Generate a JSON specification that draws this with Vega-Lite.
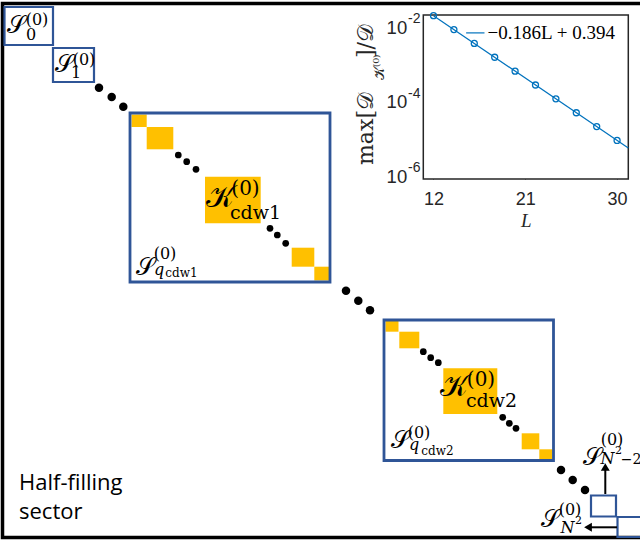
{
  "$schema": "https://vega.github.io/schema/vega-lite/v6.json",
  "width": 640,
  "height": 542,
  "autosize": {"type": "none"},
  "padding": 0,
  "background": "white",
  "config": {"view": {"stroke": null}},
  "datasets": {
    "frame": [{"x": 2.5, "x2": 720, "y": 3.5, "y2": 537.5}],
    "bigbox": [
      {"x": 130, "x2": 330, "y": 113, "y2": 282},
      {"x": 384, "x2": 553.5, "y": 320, "y2": 460.5}
    ],
    "smallbox": [
      {"x": 4.5, "x2": 53, "y": 7, "y2": 45},
      {"x": 53, "x2": 94, "y": 48, "y2": 82},
      {"x": 591, "x2": 616, "y": 495.5, "y2": 516.5},
      {"x": 617.5, "x2": 690, "y": 517, "y2": 537}
    ],
    "orange": [
      {"x": 131.5, "x2": 146.7, "y": 114.5, "y2": 127},
      {"x": 146.7, "x2": 173.3, "y": 127, "y2": 149.3},
      {"x": 205, "x2": 260.7, "y": 176.7, "y2": 223.3},
      {"x": 291.7, "x2": 314.3, "y": 247.7, "y2": 266.7},
      {"x": 314.3, "x2": 329, "y": 266.7, "y2": 280.5},
      {"x": 385.5, "x2": 398.5, "y": 321, "y2": 331.7},
      {"x": 399.3, "x2": 419.3, "y": 331.7, "y2": 348.3},
      {"x": 443.3, "x2": 497.3, "y": 368.3, "y2": 414},
      {"x": 521.7, "x2": 539.3, "y": 433.3, "y2": 449.3},
      {"x": 539.3, "x2": 552.3, "y": 449.3, "y2": 459.3}
    ],
    "bigdots": [
      {"x": 99, "y": 87.7}, {"x": 111.7, "y": 97}, {"x": 123.3, "y": 106.7},
      {"x": 346, "y": 290.7}, {"x": 358.3, "y": 300.7}, {"x": 370, "y": 310.3},
      {"x": 561, "y": 470}, {"x": 572.7, "y": 480}, {"x": 585, "y": 490}
    ],
    "smalldots": [
      {"x": 178.3, "y": 155}, {"x": 186.7, "y": 161.7}, {"x": 196, "y": 169.3},
      {"x": 270, "y": 228.3}, {"x": 277.3, "y": 235}, {"x": 285.7, "y": 243.3},
      {"x": 423.3, "y": 351.7}, {"x": 430.7, "y": 357.7}, {"x": 438.3, "y": 362.7},
      {"x": 502.7, "y": 417.3}, {"x": 509.3, "y": 423.3}, {"x": 516, "y": 428.3}
    ],
    "arrows": [
      {"x": 605.3, "x2": 605.3, "y": 494, "y2": 470},
      {"x": 617, "x2": 591, "y": 527.3, "y2": 527.3}
    ],
    "heads": [
      {"x": 605.3, "y": 467, "dir": "up"},
      {"x": 588, "y": 527.3, "dir": "left"}
    ],
    "lab": [
      {"x": 16.5, "y": 26, "t": "𝒮", "g": "S"},
      {"x": 64.5, "y": 65, "t": "𝒮", "g": "S"},
      {"x": 145.5, "y": 267.5, "t": "𝒮", "g": "S"},
      {"x": 400, "y": 440.5, "t": "𝒮", "g": "S"},
      {"x": 592.5, "y": 457.5, "t": "𝒮", "g": "S"},
      {"x": 550.5, "y": 519.5, "t": "𝒮", "g": "S"},
      {"x": 220, "y": 197.5, "t": "𝒦", "g": "K"},
      {"x": 454, "y": 386.5, "t": "𝒦", "g": "K"},
      {"x": 37, "y": 19.5, "t": "(0)", "g": "p"},
      {"x": 84, "y": 59.5, "t": "(0)", "g": "p"},
      {"x": 165, "y": 253.5, "t": "(0)", "g": "p"},
      {"x": 419, "y": 432.5, "t": "(0)", "g": "p"},
      {"x": 612, "y": 440, "t": "(0)", "g": "p"},
      {"x": 570, "y": 509.5, "t": "(0)", "g": "p"},
      {"x": 245.5, "y": 189, "t": "(0)", "g": "P"},
      {"x": 481, "y": 379.5, "t": "(0)", "g": "P"},
      {"x": 31, "y": 35, "t": "0", "g": "d"},
      {"x": 76, "y": 72.5, "t": "1", "g": "d"},
      {"x": 159, "y": 270, "t": "q", "g": "i"},
      {"x": 414, "y": 445, "t": "q", "g": "i"},
      {"x": 607.5, "y": 458.5, "t": "N", "g": "i"},
      {"x": 567.5, "y": 527.5, "t": "N", "g": "i"},
      {"x": 181.5, "y": 272.5, "t": "cdw1", "g": "c"},
      {"x": 437.5, "y": 450.5, "t": "cdw2", "g": "c"},
      {"x": 255.5, "y": 213, "t": "cdw1", "g": "C"},
      {"x": 491.5, "y": 401, "t": "cdw2", "g": "C"},
      {"x": 618.5, "y": 451, "t": "2", "g": "s"},
      {"x": 578.5, "y": 521, "t": "2", "g": "s"},
      {"x": 631, "y": 459.5, "t": "−2", "g": "m"}
    ],
    "ytitle": [
      {"x": 373, "y": 165, "t": "max[𝒟", "g": "big"},
      {"x": 384, "y": 80, "t": "𝒦⁽⁰⁾", "g": "sub"},
      {"x": 373, "y": 58, "t": "]/𝒟", "g": "big"}
    ],
    "sector": [
      {"x": 19, "y": 490, "t": "Half-filling"},
      {"x": 19, "y": 519, "t": "sector"}
    ],
    "ibox": [{"L": 11, "L2": 31.1, "v": 6.03e-7, "v2": 0.01514}],
    "fit": [{"L": 12, "v": 0.01452}, {"L": 31.1, "v": 4.07e-6}],
    "pts": [
      {"L": 12, "v": 0.01452}, {"L": 14, "v": 0.006166}, {"L": 16, "v": 0.002618},
      {"L": 18, "v": 0.001112}, {"L": 20, "v": 0.0004721}, {"L": 22, "v": 0.0002004},
      {"L": 24, "v": 0.00008511}, {"L": 26, "v": 0.00003614}, {"L": 28, "v": 0.00001535},
      {"L": 30, "v": 0.000006516}
    ],
    "leg": [{"L": 15.2, "L2": 17.0, "v": 0.005012, "tL": 17.3, "t": "−0.186L + 0.394"}]
  },
  "layer": [
    {
      "encoding": {
        "x": {"field": "x", "type": "quantitative", "scale": {"domain": [0, 640], "range": [0, 640], "nice": false, "zero": false}, "axis": null},
        "y": {"field": "y", "type": "quantitative", "scale": {"domain": [0, 542], "range": [0, 542], "nice": false, "zero": false}, "axis": null}
      },
      "layer": [
        {
          "data": {"name": "orange"},
          "mark": {"type": "rect", "fill": "#FFC000"},
          "encoding": {"x2": {"field": "x2"}, "y2": {"field": "y2"}}
        },
        {
          "data": {"name": "frame"},
          "mark": {"type": "rect", "fill": null, "filled": false, "stroke": "black", "strokeWidth": 3.5},
          "encoding": {"x2": {"field": "x2"}, "y2": {"field": "y2"}}
        },
        {
          "data": {"name": "bigbox"},
          "mark": {"type": "rect", "fill": null, "filled": false, "stroke": "#2F5597", "strokeWidth": 2.8},
          "encoding": {"x2": {"field": "x2"}, "y2": {"field": "y2"}}
        },
        {
          "data": {"name": "smallbox"},
          "mark": {"type": "rect", "fill": null, "filled": false, "stroke": "#2F5597", "strokeWidth": 2.2},
          "encoding": {"x2": {"field": "x2"}, "y2": {"field": "y2"}}
        },
        {
          "data": {"name": "bigdots"},
          "mark": {"type": "point", "shape": "circle", "filled": true, "color": "black", "opacity": 1, "size": 72}
        },
        {
          "data": {"name": "smalldots"},
          "mark": {"type": "point", "shape": "circle", "filled": true, "color": "black", "opacity": 1, "size": 45}
        },
        {
          "data": {"name": "arrows"},
          "mark": {"type": "rule", "color": "black", "strokeWidth": 2},
          "encoding": {"x2": {"field": "x2"}, "y2": {"field": "y2"}}
        },
        {
          "data": {"name": "heads"},
          "transform": [{"filter": "datum.dir == 'up'"}],
          "mark": {"type": "point", "shape": "triangle-up", "filled": true, "color": "black", "opacity": 1, "size": 80}
        },
        {
          "data": {"name": "heads"},
          "transform": [{"filter": "datum.dir == 'left'"}],
          "mark": {"type": "point", "shape": "triangle-left", "filled": true, "color": "black", "opacity": 1, "size": 80}
        },
        {
          "data": {"name": "lab"},
          "transform": [{"filter": "datum.g == 'S'"}],
          "mark": {"type": "text", "font": "DejaVu Serif", "fontSize": 24, "align": "center", "baseline": "middle", "color": "black"},
          "encoding": {"text": {"field": "t"}}
        },
        {
          "data": {"name": "lab"},
          "transform": [{"filter": "datum.g == 'K'"}],
          "mark": {"type": "text", "font": "DejaVu Serif", "fontSize": 30, "align": "center", "baseline": "middle", "color": "black"},
          "encoding": {"text": {"field": "t"}}
        },
        {
          "data": {"name": "lab"},
          "transform": [{"filter": "datum.g == 'p'"}],
          "mark": {"type": "text", "font": "DejaVu Serif", "fontSize": 16, "align": "center", "baseline": "middle", "color": "black"},
          "encoding": {"text": {"field": "t"}}
        },
        {
          "data": {"name": "lab"},
          "transform": [{"filter": "datum.g == 'P'"}],
          "mark": {"type": "text", "font": "DejaVu Serif", "fontSize": 20, "align": "center", "baseline": "middle", "color": "black"},
          "encoding": {"text": {"field": "t"}}
        },
        {
          "data": {"name": "lab"},
          "transform": [{"filter": "datum.g == 'd'"}],
          "mark": {"type": "text", "font": "DejaVu Serif", "fontSize": 16, "align": "center", "baseline": "middle", "color": "black"},
          "encoding": {"text": {"field": "t"}}
        },
        {
          "data": {"name": "lab"},
          "transform": [{"filter": "datum.g == 'i'"}],
          "mark": {"type": "text", "font": "DejaVu Serif", "fontSize": 16, "fontStyle": "italic", "align": "center", "baseline": "middle", "color": "black"},
          "encoding": {"text": {"field": "t"}}
        },
        {
          "data": {"name": "lab"},
          "transform": [{"filter": "datum.g == 'c'"}],
          "mark": {"type": "text", "font": "DejaVu Serif", "fontSize": 12, "align": "center", "baseline": "middle", "color": "black"},
          "encoding": {"text": {"field": "t"}}
        },
        {
          "data": {"name": "lab"},
          "transform": [{"filter": "datum.g == 'C'"}],
          "mark": {"type": "text", "font": "DejaVu Serif", "fontSize": 19, "align": "center", "baseline": "middle", "color": "black"},
          "encoding": {"text": {"field": "t"}}
        },
        {
          "data": {"name": "lab"},
          "transform": [{"filter": "datum.g == 's'"}],
          "mark": {"type": "text", "font": "DejaVu Serif", "fontSize": 11, "align": "center", "baseline": "middle", "color": "black"},
          "encoding": {"text": {"field": "t"}}
        },
        {
          "data": {"name": "lab"},
          "transform": [{"filter": "datum.g == 'm'"}],
          "mark": {"type": "text", "font": "DejaVu Serif", "fontSize": 14, "align": "center", "baseline": "middle", "color": "black"},
          "encoding": {"text": {"field": "t"}}
        },
        {
          "data": {"name": "ytitle"},
          "transform": [{"filter": "datum.g == 'big'"}],
          "mark": {"type": "text", "font": "DejaVu Serif", "fontSize": 22, "angle": 270, "align": "left", "baseline": "alphabetic", "color": "#262626"},
          "encoding": {"text": {"field": "t"}}
        },
        {
          "data": {"name": "ytitle"},
          "transform": [{"filter": "datum.g == 'sub'"}],
          "mark": {"type": "text", "font": "DejaVu Serif", "fontSize": 14, "angle": 270, "align": "left", "baseline": "alphabetic", "color": "#262626"},
          "encoding": {"text": {"field": "t"}}
        },
        {
          "data": {"name": "sector"},
          "mark": {"type": "text", "font": "Open Sans", "fontSize": 22, "align": "left", "baseline": "alphabetic", "color": "black"},
          "encoding": {"text": {"field": "t"}}
        }
      ]
    },
    {
      "encoding": {
        "x": {"field": "L", "type": "quantitative", "scale": {"domain": [11, 31.1], "range": [423.3, 628.3], "nice": false, "zero": false}, "axis": null},
        "y": {"field": "v", "type": "quantitative", "scale": {"type": "log", "domain": [6.03e-7, 0.01514], "range": [179, 15], "nice": false}, "axis": null}
      },
      "resolve": {"axis": {"x": "independent", "y": "independent"}},
      "layer": [
        {
          "data": {"name": "ibox"},
          "mark": {"type": "rect", "fill": "white", "stroke": "#262626", "strokeWidth": 1.5},
          "encoding": {
            "x": {"field": "L", "type": "quantitative",
              "axis": {"orient": "bottom", "offset": -363, "values": [12, 21, 30], "domain": false, "grid": false,
                "tickSize": -5, "tickColor": "#262626", "tickWidth": 1, "labelFont": "Liberation Sans", "labelFontSize": 18,
                "labelColor": "#262626", "labelPadding": 16, "labelFlush": false, "labelOverlap": false,
                "title": "L", "titleFont": "Liberation Serif", "titleFontStyle": "italic", "titleFontWeight": "normal",
                "titleFontSize": 19, "titleColor": "#262626", "titlePadding": 3}},
            "x2": {"field": "L2"},
            "y": {"field": "v", "type": "quantitative",
              "axis": {"orient": "left", "offset": -423.3, "values": [0.000001, 0.0001, 0.01], "domain": false, "grid": false,
                "tickSize": -5, "tickColor": "#262626", "tickWidth": 1, "labelFont": "Liberation Sans", "labelFontSize": 18.5,
                "labelColor": "#262626", "labelPadding": 21.6, "labelFlush": false, "labelOverlap": false, "labelOffset": 5.5,
                "labelExpr": "'10'", "title": null}},
            "y2": {"field": "v2"}
          }
        },
        {
          "data": {"name": "fit"},
          "mark": {"type": "line", "color": "#0072BD", "strokeWidth": 1.2},
          "encoding": {
            "x": {"field": "L", "type": "quantitative",
              "axis": {"orient": "top", "offset": -15, "values": [12, 21, 30], "domain": false, "grid": false, "labels": false,
                "tickSize": -5, "tickColor": "#262626", "tickWidth": 1, "title": null}},
            "y": {"field": "v", "type": "quantitative",
              "axis": {"orient": "right", "offset": -11.7, "values": [0.000001, 0.0001, 0.01], "domain": false, "grid": false, "labels": false,
                "tickSize": -5, "tickColor": "#262626", "tickWidth": 1, "title": null}}
          }
        },
        {
          "data": {"name": "pts"},
          "mark": {"type": "point", "shape": "circle", "filled": false, "stroke": "#0072BD", "strokeWidth": 1.3, "size": 36, "opacity": 1},
          "encoding": {
            "y": {"field": "v", "type": "quantitative",
              "axis": {"orient": "left", "offset": -423.3, "values": [0.000001, 0.0001, 0.01], "domain": false, "grid": false, "ticks": false,
                "labelFont": "Liberation Sans", "labelFontSize": 14, "labelColor": "#262626", "labelAlign": "left",
                "labelPadding": 15.8, "labelFlush": false, "labelOverlap": false, "labelOffset": -3,
                "labelExpr": "datum.value > 0.005 ? '-2' : datum.value > 0.00005 ? '-4' : '-6'", "title": null}}
          }
        },
        {
          "data": {"name": "leg"},
          "mark": {"type": "rule", "color": "#0072BD", "strokeWidth": 1.2},
          "encoding": {"x2": {"field": "L2"}}
        },
        {
          "data": {"name": "leg"},
          "mark": {"type": "text", "font": "Liberation Serif", "fontSize": 19, "align": "left", "baseline": "middle", "color": "black"},
          "encoding": {"x": {"field": "tL", "type": "quantitative", "axis": null}, "text": {"field": "t"}}
        }
      ]
    }
  ],
  "resolve": {"scale": {"x": "independent", "y": "independent"}, "axis": {"x": "independent", "y": "independent"}}
}
